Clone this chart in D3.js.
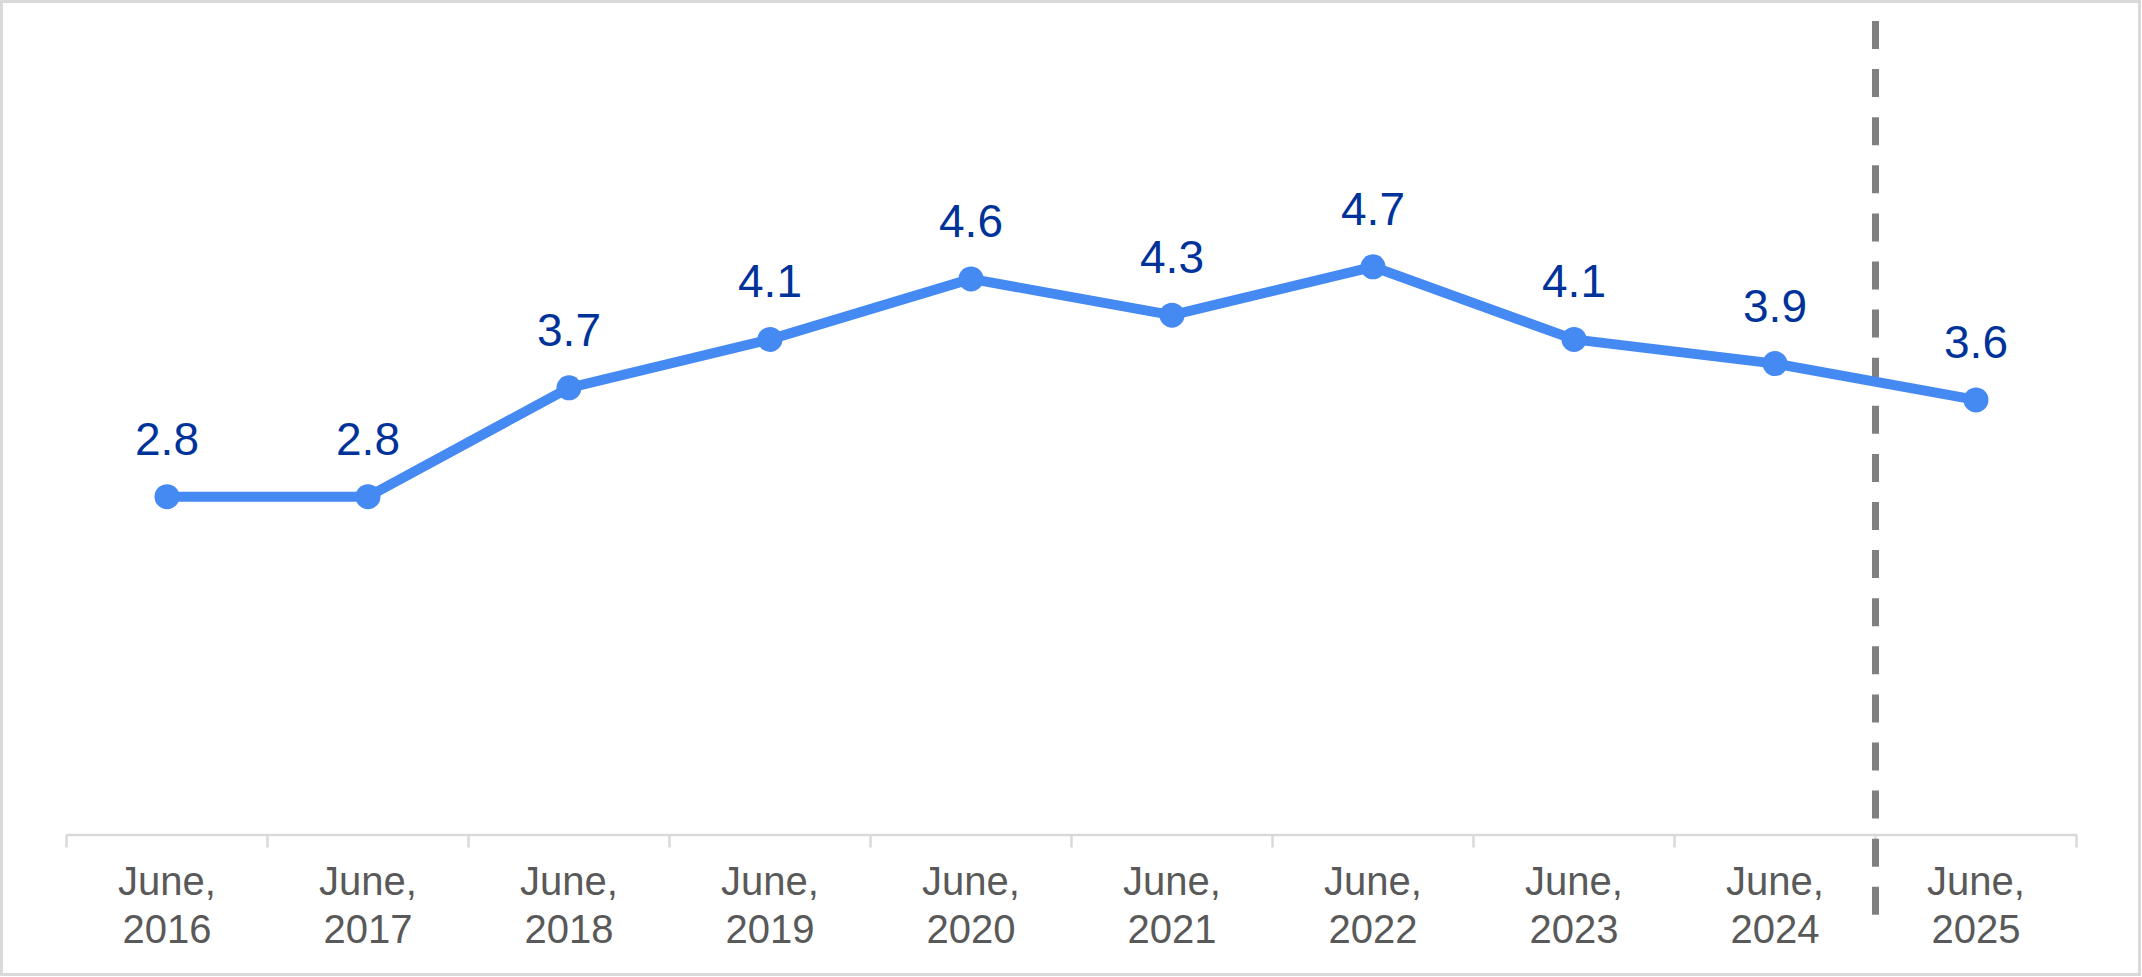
<!DOCTYPE html>
<html>
<head>
<meta charset="utf-8">
<script src="https://cdn.jsdelivr.net/npm/d3@7"></script>
<style>
  html, body { margin: 0; padding: 0; background: #fff; }
  svg { display: block; }
</style>
</head>
<body>
<svg id="chart" width="2142" height="977"></svg>
<script>
const categories = ["June, 2016","June, 2017","June, 2018","June, 2019","June, 2020","June, 2021","June, 2022","June, 2023","June, 2024","June, 2025"];
const values = [2.8, 2.8, 3.7, 4.1, 4.6, 4.3, 4.7, 4.1, 3.9, 3.6];
const valueLabels = ["2.8","2.8","3.7","4.1","4.6","4.3","4.7","4.1","3.9","3.6"];
const forecastStart = "June, 2025";

const svg = d3.select("#chart");
const W = 2142, H = 977;

svg.append("rect")
  .attr("x", 1.5).attr("y", 1.5)
  .attr("width", W - 4).attr("height", H - 4)
  .attr("fill", "#fff").attr("stroke", "#d9d9d9").attr("stroke-width", 3);

const x = d3.scaleBand().domain(categories).range([66.5, 2076.5]).padding(0);
const y = d3.scaleLinear().domain([0, 6]).range([835.5, 835.5 - 6 * 121]);
const cx = d => x(d) + x.bandwidth() / 2;

// x axis
const axisG = svg.append("g").attr("transform", `translate(0,${y(0) - 1})`);
axisG.call(d3.axisBottom(x).tickSize(0).tickFormat(""));
axisG.select(".domain").attr("stroke", "#d9d9d9").attr("stroke-width", 2.5);
const boundaries = categories.map(c => x(c)).concat([x(categories[categories.length - 1]) + x.bandwidth()]);
axisG.selectAll("line.bnd").data(boundaries).enter().append("line")
  .attr("class", "bnd")
  .attr("x1", d => d).attr("x2", d => d)
  .attr("y1", 0).attr("y2", 13)
  .attr("stroke", "#d9d9d9").attr("stroke-width", 2.5);

// tick labels (two lines)
const lbl = svg.append("g").selectAll("text").data(categories).enter().append("text")
  .attr("x", d => cx(d))
  .attr("text-anchor", "middle")
  .attr("font-family", "Liberation Sans, Arial, sans-serif")
  .attr("font-size", 40)
  .attr("fill", "#595959");
lbl.append("tspan").attr("x", d => cx(d)).attr("y", 895).text(d => d.split(" ")[0]);
lbl.append("tspan").attr("x", d => cx(d)).attr("y", 943).text(d => d.split(" ")[1]);

// dashed forecast separator
const sepX = x(forecastStart);
svg.append("line")
  .attr("x1", sepX).attr("x2", sepX)
  .attr("y1", 21).attr("y2", 915)
  .attr("stroke", "#808080").attr("stroke-width", 7)
  .attr("stroke-dasharray", "28,20.1");

// line
const line = d3.line().x((d, i) => cx(categories[i])).y(d => y(d));
svg.append("path")
  .datum(values)
  .attr("d", line)
  .attr("fill", "none")
  .attr("stroke", "#4589f2")
  .attr("stroke-width", 10)
  .attr("stroke-linejoin", "round");

svg.append("g").selectAll("circle").data(values).enter().append("circle")
  .attr("cx", (d, i) => cx(categories[i]))
  .attr("cy", d => y(d))
  .attr("r", 12.5)
  .attr("fill", "#4589f2");

// data labels
svg.append("g").selectAll("text").data(values).enter().append("text")
  .attr("x", (d, i) => cx(categories[i]))
  .attr("y", d => y(d) - 42)
  .attr("text-anchor", "middle")
  .attr("font-family", "Liberation Sans, Arial, sans-serif")
  .attr("font-size", 46)
  .attr("fill", "#003399")
  .text((d, i) => valueLabels[i]);
</script>
</body>
</html>
